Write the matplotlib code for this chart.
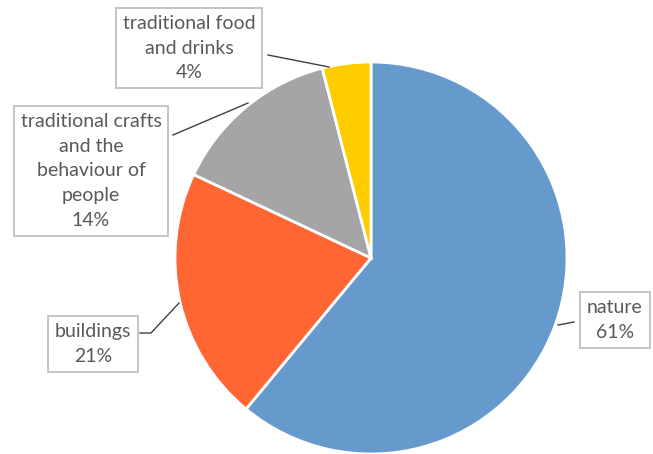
import matplotlib
matplotlib.use('Agg')
from matplotlib import pyplot as plt

categories = ['nature', 'buildings', 'traditional crafts\nand the\nbehaviour of\npeople',
              'traditional food\nand drinks']
shares = [61, 21, 14, 4]
colors = ['#6699CC', '#FF6633', '#A5A5A8', '#FFCC00']

W, H = 653, 454

def py(y):
    # image pixel row -> axes y
    return H - y

fig = plt.figure(figsize=(W/100., H/100.), dpi=100)
ax = fig.add_axes([0, 0, 1, 1])

ax.pie(shares, colors=colors, startangle=90, counterclock=False,
       center=(371, py(258)), radius=196,
       wedgeprops=dict(edgecolor='white', linewidth=2))
ax.set_xlim(0, W)
ax.set_ylim(0, H)
ax.set_aspect('equal')
ax.axis('off')

# label box centres (pixels) and leader lines
label_pos = [(615, 320), (93, 344), (91, 171), (189, 48)]
leaders = [
    [(558, 325), (574, 322)],
    [(140, 333), (151, 333), (179, 303)],
    [(173, 135), (248, 103)],
    [(268, 55), (329, 67)],
]

for cat, val, (x, y), pts in zip(categories, shares, label_pos, leaders):
    xs = [p[0] for p in pts]
    ys = [py(p[1]) for p in pts]
    ax.plot(xs, ys, color='#404040', lw=1)
    ax.text(x, py(y), '%s\n%d%%' % (cat, val), ha='center', va='center',
            fontsize=14, color='#595959', family='Lato', linespacing=1.55,
            bbox=dict(boxstyle='square,pad=0.35', fc='white', ec='#BFBFBF', lw=1.3))

fig.savefig('out.png', dpi=100)
